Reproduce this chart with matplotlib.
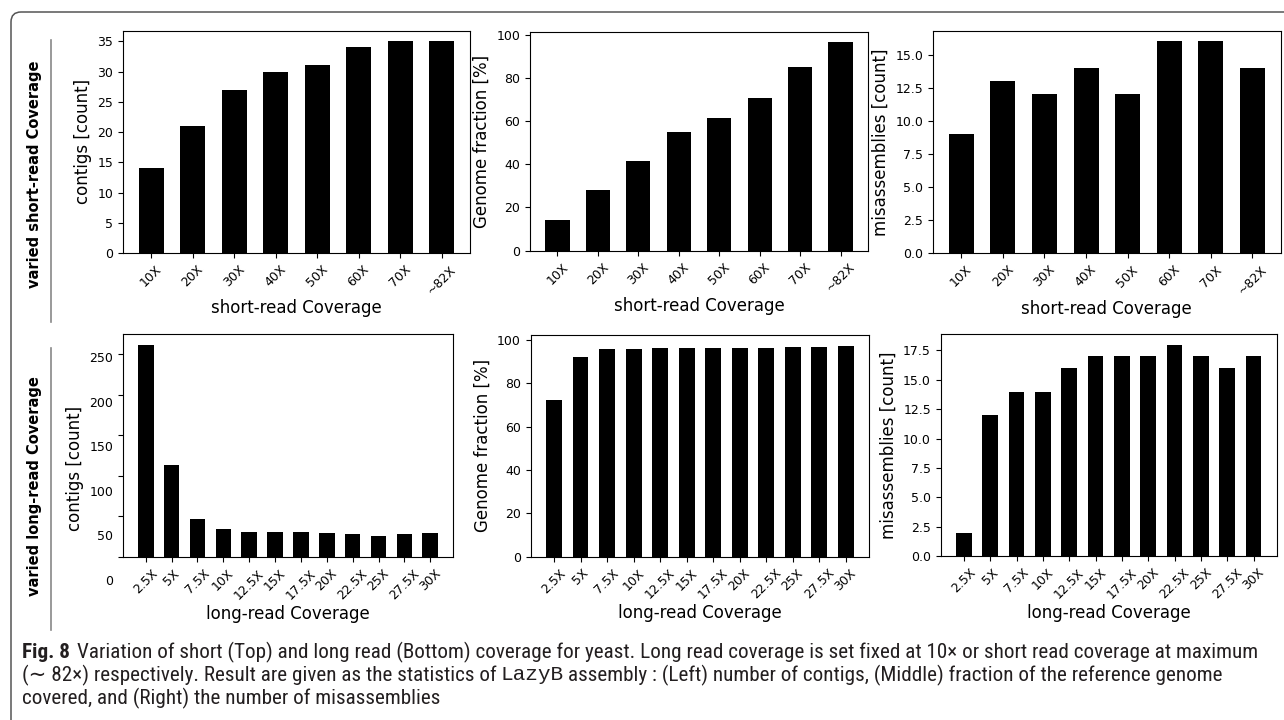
import matplotlib
matplotlib.use("Agg")
import numpy as np
import matplotlib.pyplot as plt
from matplotlib.path import Path
from matplotlib.patches import PathPatch
from matplotlib.lines import Line2D
from matplotlib import font_manager

# coverage levels
short_cov = ['10X', '20X', '30X', '40X', '50X', '60X', '70X', '~82X']
long_cov = ['2.5X', '5X', '7.5X', '10X', '12.5X', '15X', '17.5X', '20X',
            '22.5X', '25X', '27.5X', '30X']

# assembly statistics, short-read coverage varied
short_contigs = [14, 21, 27, 30, 31, 34, 35, 35]
short_fraction = [14.1, 27.9, 41.7, 55.1, 61.5, 70.7, 85.0, 96.5]
short_misasm = [9, 13, 12, 14, 12, 16, 16, 14]

# assembly statistics, long-read coverage varied
long_contigs = [262, 114, 47, 35, 31, 31, 31, 29, 28, 26, 28, 29]
long_fraction = [72.5, 91.9, 95.6, 96.0, 96.5, 96.5, 96.5, 96.5, 96.5, 96.9, 96.9, 97.4]
long_misasm = [2, 12, 14, 14, 16, 17, 17, 17, 18, 17, 16, 17]

W, H = 1284, 720
fig = plt.figure(figsize=(W / 100, H / 100), dpi=100)
TICK_FS = 9
LABEL_FS = 12


def px_rect(x0, y0, x1, y1):
    # pixel box (top-left origin) -> figure fraction rect
    return [x0 / W, 1 - y1 / H, (x1 - x0) / W, (y1 - y0) / H]


def bar_panel(rect, labels, values, ylabel, xlabel):
    ax = fig.add_axes(px_rect(*rect))
    ax.bar(range(len(values)), values, width=0.6, color='black')
    ax.set_xticks(range(len(labels)))
    ax.set_xticklabels(labels, rotation=45, fontsize=TICK_FS)
    ax.tick_params(axis='y', labelsize=TICK_FS)
    ax.set_ylabel(ylabel, fontsize=LABEL_FS)
    ax.set_xlabel(xlabel, fontsize=LABEL_FS, labelpad=2)
    return ax


bar_panel((123, 30.7, 470, 253), short_cov, short_contigs, 'contigs [count]', 'short-read Coverage')
bar_panel((530, 31.7, 868, 250.7), short_cov, short_fraction, 'Genome fraction [%]', 'short-read Coverage')
ax = bar_panel((933, 30.7, 1280.7, 253.3), short_cov, short_misasm, 'misassemblies [count]', 'short-read Coverage')
ax.set_yticks(np.arange(0, 16, 2.5))
ax.yaxis.set_major_formatter('{x:.1f}')

# contigs vs long-read coverage: tick labels come from an overlaid axis
ax = bar_panel((123, 334, 453, 557), long_cov, long_contigs, '', 'long-read Coverage')
ax.set_yticks(range(0, 251, 50))
ax.tick_params(axis='y', labelleft=False)
lab = fig.add_axes(px_rect(123, 357, 453, 580))
lab.set_ylim(0, 250)
lab.set_yticks(range(0, 251, 50))
lab.tick_params(axis='y', length=0, pad=7, labelsize=TICK_FS)
lab.set_xticks([])
lab.patch.set_visible(False)
for s in lab.spines.values():
    s.set_visible(False)
lab.set_ylabel('contigs [count]', fontsize=LABEL_FS)

bar_panel((530.7, 335, 869, 556.7), long_cov, long_fraction, 'Genome fraction [%]', 'long-read Coverage')
ax = bar_panel((940.7, 334, 1276.7, 556), long_cov, long_misasm, 'misassemblies [count]', 'long-read Coverage')
ax.set_yticks(np.arange(0, 18, 2.5))
ax.yaxis.set_major_formatter('{x:.1f}')

# row labels and separators
fig.text(35 / W, 1 - 174 / H, 'varied short-read Coverage', rotation=90,
         fontsize=10.5, fontweight='bold', ha='center', va='center')
fig.text(35 / W, 1 - 486 / H, 'varied long-read Coverage', rotation=90,
         fontsize=10.5, fontweight='bold', ha='center', va='center')
for y0, y1 in [(40, 322), (348, 630)]:
    fig.add_artist(Line2D([50.5 / W, 50.5 / W], [1 - y0 / H, 1 - y1 / H],
                          transform=fig.transFigure, color='#888888', lw=1.2))

# rounded frame, top and left edges
r = 10
verts = [(11, H), (11, 12 + r), (11, 12), (11 + r, 12), (W, 12)]
verts = [(x / W, 1 - y / H) for x, y in verts]
codes = [Path.MOVETO, Path.LINETO, Path.CURVE3, Path.CURVE3, Path.LINETO]
fig.add_artist(PathPatch(Path(verts, codes), fill=False, edgecolor='#555555',
                         lw=1.1, transform=fig.transFigure))

# caption
names = {f.name for f in font_manager.fontManager.ttflist}
cap_font = 'DejaVu Sans'
for cand in ['Liberation Sans Narrow', 'Roboto Condensed', 'Open Sans Condensed', 'Roboto']:
    if cand in names:
        cap_font = cand
        break
cap_color = '#231f20'
renderer = fig.canvas.get_renderer()

lines = [
    (652, [('Fig. 8', 'bold', cap_font), ('Variation of short (Top) and long read (Bottom) coverage for yeast. '
           'Long read coverage is set fixed at 10\u00d7 or short read coverage at maximum', 'normal', cap_font)]),
    (675, [('(\u223c 82\u00d7) respectively. Result are given as the statistics of', 'normal', cap_font),
           ('LazyB', 'normal', 'Liberation Mono'),
           ('assembly : (Left) number of contigs, (Middle) fraction of the reference genome', 'normal', cap_font)]),
    (698, [('covered, and (Right) the number of misassemblies', 'normal', cap_font)]),
]
gaps = [7, 4]


def draw_line(y, parts, size, draw=True):
    x = 22
    for i, (s, weight, fam) in enumerate(parts):
        t = fig.text(x / W, 1 - y / H, s, fontsize=size, fontweight=weight,
                     family=[fam, 'DejaVu Sans'], color=cap_color, va='center', ha='left')
        x += t.get_window_extent(renderer).width + (gaps[0] if i == 0 and weight == 'bold' else gaps[1])
        if not draw:
            t.remove()
    return x - 22


# size the caption so the first line fills the panel width
trial = 12.0
w = draw_line(*lines[0], trial, draw=False)
cap_size = trial * 1240 / w
for y, parts in lines:
    draw_line(y, parts, cap_size)

fig.savefig('out.png', dpi=100)
